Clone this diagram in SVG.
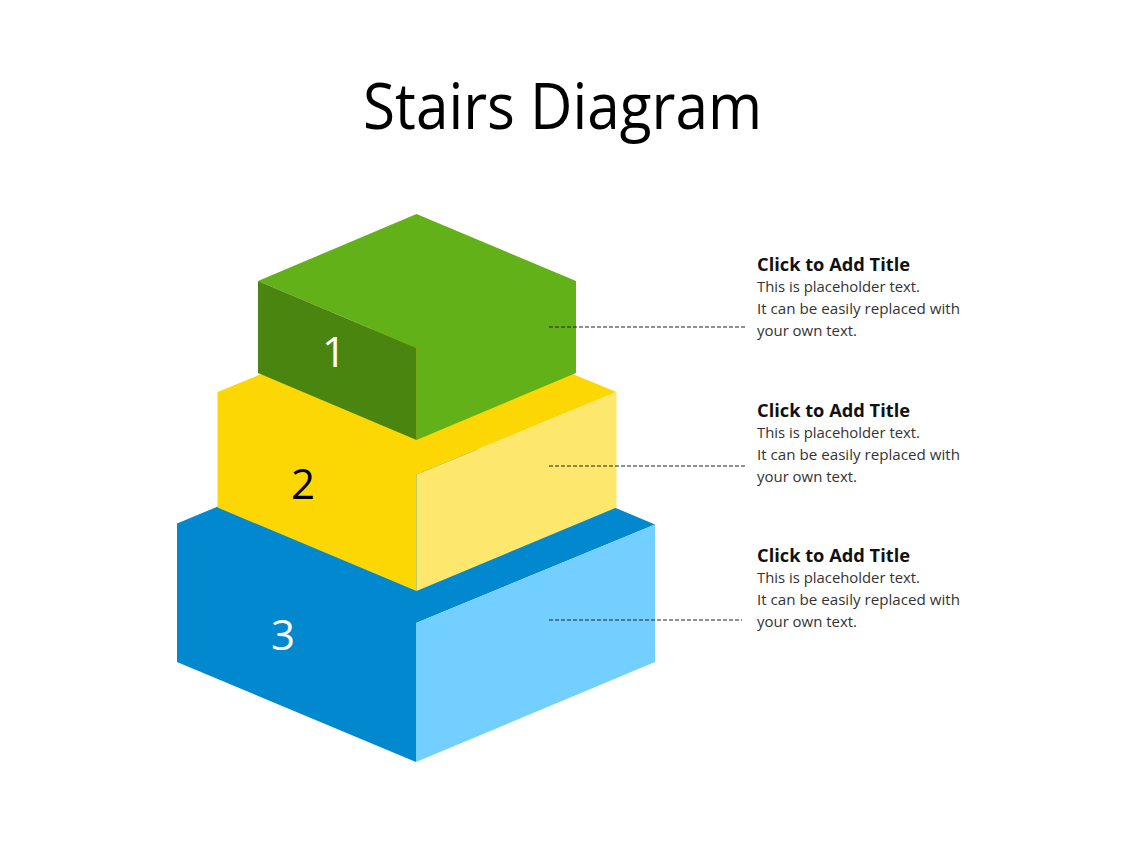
<svg xmlns="http://www.w3.org/2000/svg" width="1128" height="846" viewBox="0 0 1128 846">
<style>
.title{font-family:"Open Sans","Noto Sans",sans-serif;font-size:64px;fill:#000}
.num{font-family:"Open Sans","Noto Sans",sans-serif;font-size:42px;text-anchor:middle}
.h{font-family:"Open Sans","Noto Sans",sans-serif;font-size:18px;font-weight:bold;fill:#111}
.b{font-family:"Open Sans","Noto Sans",sans-serif;font-size:14.5px;fill:#333}
.dash{stroke:#222;stroke-width:1;stroke-dasharray:4 2;fill:none}
</style>
<rect width="1128" height="846" fill="#fff"/>
<text class="title" x="363" y="129" textLength="399" lengthAdjust="spacingAndGlyphs">Stairs Diagram</text>
<g id="step3">
<polygon points="177,523.5 416,424 655,524.5 416,623 416,762 177,662" fill="#0288CE"/>
<polygon points="416,623 655,524.5 655,662 416,762" fill="#72CFFF"/>
<text class="num" x="283" y="650" fill="#fff">3</text>
</g>
<g id="step2">
<polygon points="217.5,392 416.5,310 616.5,392 416.5,474.5 416.5,591 217.5,507.5" fill="#FCD703"/>
<polygon points="416.5,474.5 616.5,392 616.5,507.5 416.5,591" fill="#FDE76C"/>
<text class="num" x="303" y="499" fill="#000">2</text>
</g>
<g id="step1">
<polygon points="258,281 416.5,214 576,281 576,373 416.5,440 416.5,348" fill="#62B118"/>
<polygon points="258,281 416.5,348 416.5,440 258,373" fill="#4A850F"/>
<text class="num" x="334" y="367" fill="#fff">1</text>
</g>
<g id="connectors">
<line class="dash" x1="549" y1="327" x2="745" y2="327"/>
<line class="dash" x1="549" y1="466" x2="745" y2="466"/>
<line class="dash" x1="549" y1="620" x2="742" y2="620"/>
</g>
<g id="label1">
<text class="h" x="757" y="271" textLength="153" lengthAdjust="spacingAndGlyphs">Click to Add Title</text>
<text class="b" x="757" y="292" textLength="163" lengthAdjust="spacingAndGlyphs">This is placeholder  text.</text>
<text class="b" x="757" y="314" textLength="203" lengthAdjust="spacingAndGlyphs">It can be easily replaced with</text>
<text class="b" x="757" y="336" textLength="100" lengthAdjust="spacingAndGlyphs">your own text.</text>
</g>
<g id="label2">
<text class="h" x="757" y="417" textLength="153" lengthAdjust="spacingAndGlyphs">Click to Add Title</text>
<text class="b" x="757" y="438" textLength="163" lengthAdjust="spacingAndGlyphs">This is placeholder  text.</text>
<text class="b" x="757" y="460" textLength="203" lengthAdjust="spacingAndGlyphs">It can be easily replaced with</text>
<text class="b" x="757" y="482" textLength="100" lengthAdjust="spacingAndGlyphs">your own text.</text>
</g>
<g id="label3">
<text class="h" x="757" y="562" textLength="153" lengthAdjust="spacingAndGlyphs">Click to Add Title</text>
<text class="b" x="757" y="583" textLength="163" lengthAdjust="spacingAndGlyphs">This is placeholder  text.</text>
<text class="b" x="757" y="605" textLength="203" lengthAdjust="spacingAndGlyphs">It can be easily replaced with</text>
<text class="b" x="757" y="627" textLength="100" lengthAdjust="spacingAndGlyphs">your own text.</text>
</g>
</svg>
